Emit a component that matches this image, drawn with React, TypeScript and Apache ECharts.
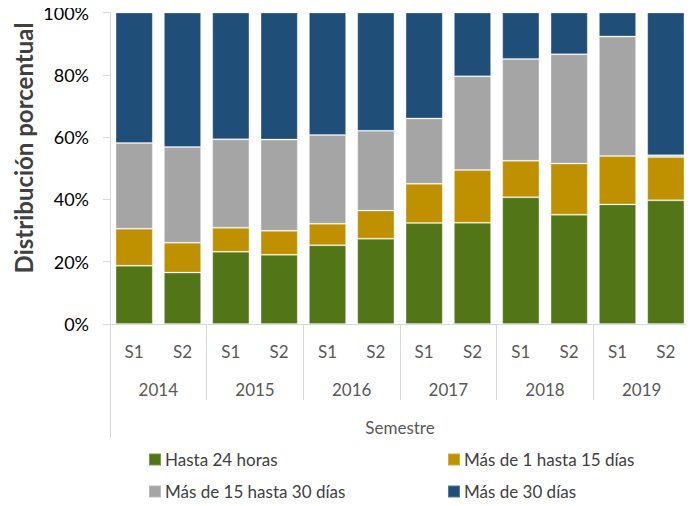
import React, { useEffect, useRef } from "react";
import * as echarts from "echarts";

const semesters = ["S1", "S2", "S1", "S2", "S1", "S2", "S1", "S2", "S1", "S2", "S1", "S2"];
const years = ["2014", "2015", "2016", "2017", "2018", "2019"];
const axisTitle = "Semestre";
const yTitle = "Distribución porcentual";

const hasta24 = [18.7, 16.5, 23.2, 22.2, 25.3, 27.4, 32.4, 32.5, 40.7, 35.1, 38.4, 39.7];
const de1a15 = [11.9, 9.6, 7.7, 7.7, 6.9, 9.0, 12.6, 16.9, 11.7, 16.4, 15.5, 13.9];
const de15a30 = [27.5, 30.7, 28.4, 29.3, 28.5, 25.6, 21.0, 30.1, 32.7, 35.1, 38.4, 0.6];
const mas30 = [41.9, 43.2, 40.7, 40.8, 39.3, 38.0, 34.0, 20.5, 14.9, 13.4, 7.7, 45.8];

const seriesNames = ["Hasta 24 horas", "Más de 1 hasta 15 días", "Más de 15 hasta 30 días", "Más de 30 días"];
const seriesData = [hasta24, de1a15, de15a30, mas30];
const colors = ["#527517", "#bf9000", "#a5a5a5", "#1f4e79"];

const FONT = "Lato";

export default function App() {
  const ref = useRef<HTMLDivElement>(null);
  useEffect(() => {
    if (!ref.current) return;
    const chart = echarts.init(ref.current, null, { renderer: "svg" });
    const axisGray = "#d9d9d9";
    const legendBase = {
      top: 448,
      height: 58,
      orient: "vertical",
      itemWidth: 12,
      itemHeight: 12,
      itemGap: 15,
      padding: [3, 5, 0, 5],
      icon: "rect",
      textStyle: { fontSize: 17, color: "#404040", fontFamily: FONT, padding: [0, 0, 0, -1] },
    };
    chart.setOption({
      animation: false,
      textStyle: { fontFamily: FONT },
      grid: { left: 110, right: 4, top: 12.5, bottom: 182, containLabel: false },
      xAxis: [
        {
          type: "category",
          data: semesters,
          axisLine: { lineStyle: { color: axisGray, width: 1 } },
          axisTick: { show: false },
          axisLabel: { interval: 0, margin: 19, fontSize: 17, color: "#595959", fontFamily: FONT },
        },
        {
          type: "category",
          data: years,
          position: "bottom",
          axisLine: { show: false },
          axisTick: { show: true, interval: 0, length: 76, lineStyle: { color: axisGray } },
          axisLabel: { interval: 0, margin: 57, fontSize: 17, color: "#595959", fontFamily: FONT },
        },
        {
          type: "category",
          data: [axisTitle],
          position: "bottom",
          axisLine: { show: false },
          axisTick: { show: true, interval: 0, length: 114, lineStyle: { color: axisGray } },
          axisLabel: { interval: 0, margin: 95, fontSize: 17, color: "#595959", fontFamily: FONT },
        },
      ],
      yAxis: {
        type: "value",
        min: 0,
        max: 100,
        interval: 20,
        axisLine: { show: true, lineStyle: { color: axisGray } },
        axisTick: { show: true, length: 7, lineStyle: { color: axisGray } },
        splitLine: { show: false },
        axisLabel: { formatter: "{value}%", fontSize: 18, color: "#000000", margin: 21, fontFamily: FONT },
      },
      legend: [
        { ...legendBase, left: 143, data: [seriesNames[0], seriesNames[2]] },
        { ...legendBase, left: 442, data: [seriesNames[1], seriesNames[3]] },
      ],
      graphic: [
        {
          type: "text",
          x: 23,
          y: 148,
          rotation: Math.PI / 2,
          style: {
            text: yTitle,
            fontSize: 24,
            fontWeight: "bold",
            fontFamily: FONT,
            fill: "#404040",
            align: "center",
            verticalAlign: "middle",
          },
        },
      ],
      series: seriesNames.map((name, i) => ({
        name,
        type: "bar",
        stack: "total",
        xAxisIndex: 0,
        barCategoryGap: "23%",
        data: seriesData[i],
        itemStyle: { color: colors[i], borderColor: "rgba(255,255,255,0.25)", borderWidth: 1 },
      })),
    });
    return () => chart.dispose();
  }, []);
  return <div ref={ref} style={{ width: 694, height: 506, margin: -8 }} />;
}
